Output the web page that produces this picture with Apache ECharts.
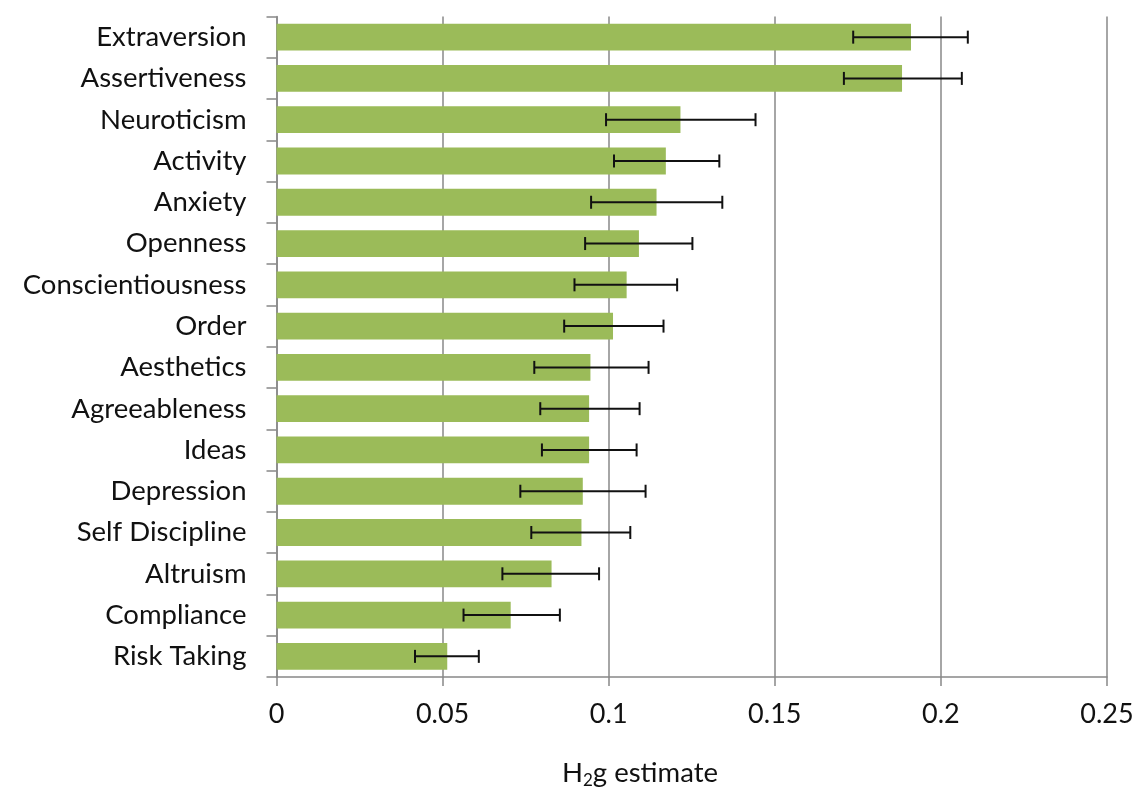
<!DOCTYPE html>
<html>
<head>
<meta charset="utf-8">
<script src="https://cdn.jsdelivr.net/npm/echarts@6/dist/echarts.min.js"></script>
<style>
html,body{margin:0;padding:0;background:#fff;}
#c{width:1138px;height:794px;}
</style>
</head>
<body>
<div id="c"></div>
<script>
var categories = ["Extraversion","Assertiveness","Neuroticism","Activity","Anxiety","Openness","Conscientiousness","Order","Aesthetics","Agreeableness","Ideas","Depression","Self Discipline","Altruism","Compliance","Risk Taking"];
var estimates = [0.191,0.1883,0.1216,0.1172,0.1144,0.1091,0.1054,0.1013,0.0945,0.0941,0.0941,0.0922,0.0918,0.0828,0.0705,0.0514];
var errLow = [0.1736,0.1708,0.0992,0.1016,0.0947,0.0929,0.0897,0.0866,0.0776,0.0794,0.0799,0.0734,0.0767,0.068,0.0563,0.0417];
var errHigh = [0.2081,0.2063,0.1442,0.1333,0.1342,0.1252,0.1206,0.1165,0.112,0.1093,0.1084,0.1111,0.1065,0.0971,0.0853,0.0609];
var xTicks = ["0","0.05","0.1","0.15","0.2","0.25"];

var FONT = "Lato";
var errData = categories.map(function(c,i){ return [i, errLow[i], errHigh[i]]; });

var chart = echarts.init(document.getElementById('c'), null, {renderer:'canvas'});
chart.setOption({
  animation:false,
  grid:{left:276.5, right:31, top:16.5, bottom:117, containLabel:false},
  xAxis:{
    type:'value', min:0, max:0.25, interval:0.05,
    axisLine:{show:true, lineStyle:{color:'#888888', width:1.5}},
    axisTick:{show:true, length:9, lineStyle:{color:'#888888', width:1.5}},
    axisLabel:{color:'#111', fontFamily:FONT, fontSize:27, margin:24,
      formatter:function(v){ var i=Math.round(v/0.05); return xTicks[i]; }},
    splitLine:{show:true, lineStyle:{color:'#888888', width:1.5}}
  },
  yAxis:{
    type:'category', data:categories, inverse:true,
    axisLine:{show:true, lineStyle:{color:'#888888', width:1.5}},
    axisTick:{show:true, length:10, lineStyle:{color:'#888888', width:1.5}},
    axisLabel:{color:'#111', fontFamily:FONT, fontSize:27.5, margin:30},
    splitLine:{show:false}
  },
  graphic:[{
    type:'text', left:562, top:759,
    style:{
      text:'{a|H}{s|2}{a|g estimate}',
      rich:{
        a:{fontFamily:FONT, fontSize:27.5, fill:'#111', color:'#111'},
        s:{fontFamily:FONT, fontSize:17, fill:'#111', color:'#111', verticalAlign:'bottom', padding:[16,0,0,0]}
      }
    }
  }],
  series:[
    {
      type:'bar', data:estimates, barCategoryGap:'35%',
      itemStyle:{color:'#9BBB59'}, z:2
    },
    {
      type:'custom', data:errData, z:5,
      renderItem:function(params, api){
        var idx = api.value(0);
        var p1 = api.coord([api.value(1), idx]);
        var p2 = api.coord([api.value(2), idx]);
        var h = 6.5;
        var st = {stroke:'#111', lineWidth:2};
        return {type:'group', children:[
          {type:'line', shape:{x1:p1[0], y1:p1[1], x2:p2[0], y2:p2[1]}, style:st},
          {type:'line', shape:{x1:p1[0], y1:p1[1]-h, x2:p1[0], y2:p1[1]+h}, style:st},
          {type:'line', shape:{x1:p2[0], y1:p2[1]-h, x2:p2[0], y2:p2[1]+h}, style:st}
        ]};
      },
      encode:{x:[1,2], y:0}
    }
  ]
});
</script>
</body>
</html>
